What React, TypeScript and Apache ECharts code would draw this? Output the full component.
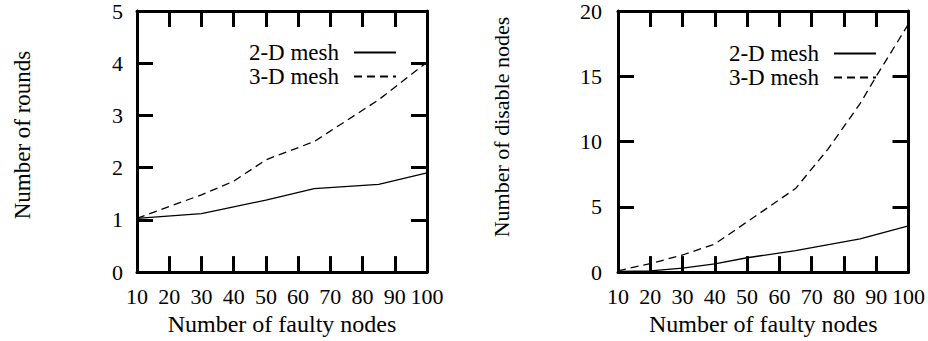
import React, { useEffect, useRef } from "react";
import * as echarts from "echarts";

// Left plot: Number of rounds
const roundsX2D = [10, 30, 40, 50, 65, 85, 100];
const rounds2D = [1.03, 1.12, 1.25, 1.38, 1.6, 1.68, 1.9];
const roundsX3D = [10, 30, 40, 50, 65, 85, 100];
const rounds3D = [1.03, 1.48, 1.74, 2.15, 2.5, 3.3, 4.02];

// Right plot: Number of disable nodes
const disableX2D = [10, 20, 30, 40, 50, 65, 85, 100];
const disable2D = [0.05, 0.1, 0.3, 0.63, 1.1, 1.64, 2.55, 3.54];
const disableX3D = [10, 20, 30, 40, 65, 75, 85, 90, 100];
const disable3D = [0.1, 0.65, 1.31, 2.15, 6.4, 9.4, 12.9, 15.0, 19.0];

const seriesNames = ["2-D mesh", "3-D mesh"];
const xTitle = "Number of faulty nodes";
const yTitleLeft = "Number of rounds";
const yTitleRight = "Number of disable nodes";

const FONT = "Liberation Serif";

const zip = (xs: number[], ys: number[]) => xs.map((x, i) => [x, ys[i]]);

export default function App() {
  const ref = useRef<HTMLDivElement>(null);
  useEffect(() => {
    if (!ref.current) return;
    const chart = echarts.init(ref.current, undefined, { renderer: "svg" });
    const lineAxis = { onZero: false, lineStyle: { color: "#000", width: 3 } };
    const tick = { inside: true, length: 16, lineStyle: { color: "#000", width: 3 } };
    const label = { fontSize: 22, fontFamily: FONT, color: "#000" };
    const xBase = (gi: number) => ({
      gridIndex: gi,
      type: "value",
      min: 10,
      max: 100,
      interval: 10,
      splitLine: { show: false },
      axisLine: lineAxis,
      axisTick: tick,
    });
    const yBase = (gi: number, max: number, interval: number) => ({
      gridIndex: gi,
      type: "value",
      min: 0,
      max,
      interval,
      splitLine: { show: false },
      axisLine: lineAxis,
      axisTick: tick,
    });
    const legendBase = {
      orient: "vertical",
      align: "right",
      padding: 0,
      itemWidth: 42,
      itemHeight: 10,
      itemGap: 1,
      itemStyle: { color: "rgba(0,0,0,0)", borderColor: "rgba(0,0,0,0)", borderWidth: 0 },
      textStyle: { fontSize: 23, fontFamily: FONT, color: "#000", lineHeight: 21, padding: [0, 10, 0, 0] },
      data: seriesNames,
      selectedMode: false,
    };
    const lineSeries = (name: string, data: number[][], gi: number, dashed: boolean) => ({
      name,
      type: "line",
      xAxisIndex: gi * 2,
      yAxisIndex: gi * 2,
      data,
      symbol: "none",
      lineStyle: { color: "#000", width: 1.3, type: dashed ? [8, 5] : "solid" },
      itemStyle: { color: "#000" },
    });
    const xName = {
      name: xTitle,
      nameLocation: "middle",
      nameGap: 29,
      nameTextStyle: { fontSize: 24, fontFamily: FONT, color: "#000" },
    };
    chart.setOption({
      animation: false,
      backgroundColor: "#fff",
      grid: [
        { left: 137, top: 10, width: 290, height: 263 },
        { left: 618, top: 10, width: 291, height: 263 },
      ],
      xAxis: [
        { ...xBase(0), position: "bottom", axisLabel: { ...label, margin: 13 }, ...xName },
        { ...xBase(0), position: "top", axisLabel: { show: false } },
        { ...xBase(1), position: "bottom", axisLabel: { ...label, margin: 13 }, ...xName },
        { ...xBase(1), position: "top", axisLabel: { show: false } },
      ],
      yAxis: [
        { ...yBase(0, 5, 1), position: "left", axisLabel: { ...label, margin: 14 } },
        { ...yBase(0, 5, 1), position: "right", axisLabel: { show: false } },
        { ...yBase(1, 20, 5), position: "left", axisLabel: { ...label, margin: 16 } },
        { ...yBase(1, 20, 5), position: "right", axisLabel: { show: false } },
      ],
      legend: [
        { ...legendBase, right: 531, top: 41 },
        { ...legendBase, right: 51, top: 42 },
      ],
      graphic: [
        {
          type: "text",
          x: 22,
          y: 135,
          rotation: Math.PI / 2,
          style: { text: yTitleLeft, font: `23px ${FONT}`, fill: "#000", textAlign: "center", textVerticalAlign: "middle" },
        },
        {
          type: "text",
          x: 501,
          y: 127,
          rotation: Math.PI / 2,
          style: { text: yTitleRight, font: `22px ${FONT}`, fill: "#000", textAlign: "center", textVerticalAlign: "middle" },
        },
      ],
      series: [
        lineSeries(seriesNames[0], zip(roundsX2D, rounds2D), 0, false),
        lineSeries(seriesNames[1], zip(roundsX3D, rounds3D), 0, true),
        lineSeries(seriesNames[0], zip(disableX2D, disable2D), 1, false),
        lineSeries(seriesNames[1], zip(disableX3D, disable3D), 1, true),
      ],
    });
    return () => chart.dispose();
  }, []);
  return <div ref={ref} style={{ width: 928, height: 341, position: "absolute", left: 0, top: 0 }} />;
}
